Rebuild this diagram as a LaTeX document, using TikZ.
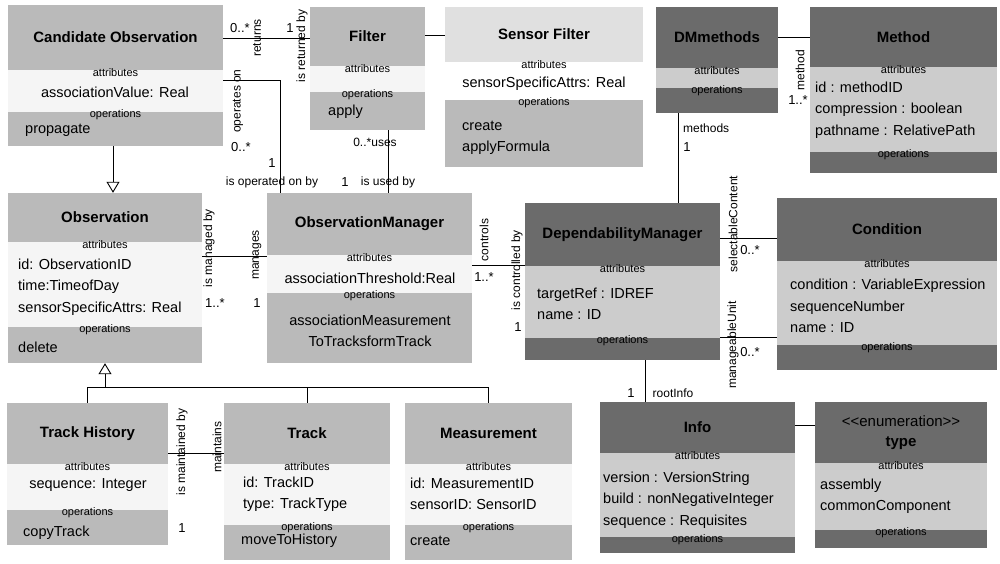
\documentclass[tikz,border=0pt]{standalone}
\usepackage{fontspec}
\setmainfont{Liberation Sans}
\usetikzlibrary{arrows.meta,fit}

\tikzset{
  lite head/.style={fill=black!27},
  lite body/.style={fill=black!4},
  lite foot/.style={fill=black!27},
  pale head/.style={fill=black!12},
  pale body/.style={fill=white},
  pale foot/.style={fill=black!27},
  dark head/.style={fill=black!58},
  dark body/.style={fill=black!20},
  dark foot/.style={fill=black!58},
  clsname/.style={font=\fontsize{15}{20}\selectfont\bfseries, align=center, inner sep=0pt},
  cmplabel/.style={font=\fontsize{11}{13}\selectfont, inner sep=0pt},
  txt/.style={font=\fontsize{14.5}{21.5}\selectfont, inner sep=0pt},
  role/.style={font=\fontsize{12}{14}\selectfont, inner sep=0pt},
  vrole/.style={role, rotate=90},
  mult/.style={font=\fontsize{13}{15}\selectfont, inner sep=0pt},
  assoc/.style={line width=0.9pt},
  inherit/.style={line width=0.9pt, -{Triangle[open, width=13pt, length=11pt, fill=white]}},
}

% box, header, attributes and operations compartments
\newcommand{\umlclass}[9]{%
  \fill[#8 head] (#2,#3) rectangle (#4,#6);
  \fill[#8 body] (#2,#6) rectangle (#4,#7);
  \fill[#8 foot] (#2,#7) rectangle (#4,#5);
  \node[fit={(#2,#3) (#4,#5)}, inner sep=0pt] (#1) {};
  \node[clsname] (#1-name) at ({(#2+#4)/2},{(#3+#6)/2}) {#9};
  \node[cmplabel] (#1-attr) at ({(#2+#4)/2},{#6+3}) {attributes};
  \node[cmplabel] (#1-ops) at ({(#2+#4)/2},{#7+3}) {operations};
}

\begin{document}
\begin{tikzpicture}[x=1pt, y=-1pt]
    \useasboundingbox (0,0) rectangle (1000,564);

    % classes
    \umlclass{candobs}{8}{5}{223}{146}{70}{112}{lite}{Candidate Observation}
    \umlclass{filter}{310}{7}{425}{130}{66}{92}{lite}{Filter}
    \umlclass{sensfilt}{445}{7}{643}{167}{62}{100}{pale}{Sensor Filter}
    \umlclass{dmmethods}{656}{7}{778}{113}{68}{88}{dark}{DMmethods}
    \umlclass{method}{810}{7}{997}{173}{67}{152}{dark}{Method}
    \umlclass{observation}{8}{193}{202}{363}{242}{327}{lite}{Observation}
    \umlclass{obsmgr}{267}{193}{472}{363}{255}{293}{lite}{ObservationManager}
    \umlclass{depmgr}{525}{203}{720}{360}{266}{338}{dark}{DependabilityManager}
    \umlclass{condition}{777}{198}{997}{370}{261}{345}{dark}{Condition}
    \umlclass{trackhist}{7}{403}{168}{545}{464}{510}{lite}{Track History}
    \umlclass{track}{224}{403}{390}{560}{464}{525}{lite}{Track}
    \umlclass{measure}{405}{403}{572}{560}{464}{525}{lite}{Measurement}
    \umlclass{info}{600}{402}{795}{553}{453}{537}{dark}{Info}
    \umlclass{enumtype}{815}{402}{987}{548}{463}{530}{dark}{\mdseries<\kern0pt<enumeration>\kern0pt>\\type}

    % attributes and operations
    \node[txt] (candobs-a) at (115,92) {associationValue: Real};
    \node[txt, anchor=west] (candobs-o) at (25,130) {propagate};
    \node[txt, anchor=west] (filter-o) at (328,112) {apply};
    \node[txt] (sensfilt-a) at (544,84) {sensorSpecificAttrs: Real};
    \node[txt, anchor=west, align=left] (sensfilt-o) at (462,138) {create\\applyFormula};
    \node[txt, anchor=west, align=left] (method-a) at (815,110) {id : methodID\\compression : boolean\\pathname : RelativePath};
    \node[txt, anchor=west, align=left] (observation-a) at (18,287) {id: ObservationID\\time:TimeofDay\\sensorSpecificAttrs: Real};
    \node[txt, anchor=west] (observation-o) at (18,347) {delete};
    \node[txt] (obsmgr-a) at (370,278) {associationThreshold:Real};
    \node[txt, align=center] (obsmgr-o) at (370,331) {associationMeasurement\\ToTracksformTrack};
    \node[txt, anchor=west, align=left] (depmgr-a) at (537,304) {targetRef : IDREF\\name : ID};
    \node[txt, anchor=west, align=left] (condition-a) at (790,306) {condition : VariableExpression\\sequenceNumber\\name : ID};
    \node[txt] (trackhist-a) at (88,485) {sequence: Integer};
    \node[txt, anchor=west] (trackhist-o) at (23,533) {copyTrack};
    \node[txt, anchor=west, align=left] (track-a) at (243,494) {id: TrackID\\type: TrackType};
    \node[txt, anchor=west] (track-o) at (241,541) {moveToHistory};
    \node[txt, anchor=west, align=left] (measure-a) at (410,494) {id: MeasurementID\\sensorID: SensorID};
    \node[txt, anchor=west] (measure-o) at (410,541) {create};
    \node[txt, anchor=west, align=left] (info-a) at (603,500) {version : VersionString\\build : nonNegativeInteger\\sequence : Requisites};
    \node[txt, anchor=west, align=left] (enumtype-a) at (820,496) {assembly\\commonComponent};

    % associations
    \draw[assoc] (candobs.east |- 0,38) -- (filter.west |- 0,38);
    \draw[assoc] (candobs.east |- 0,80) -| (obsmgr.north -| 280,0);
    \draw[assoc] (filter.east |- 0,35) -- (sensfilt.west |- 0,35);
    \draw[assoc] (filter.south -| 388,0) -- (obsmgr.north -| 388,0);
    \draw[assoc] (observation.east |- 0,256) -- (obsmgr.west |- 0,256);
    \draw[assoc] (obsmgr.east |- 0,265) -- (depmgr.west |- 0,265);
    \draw[assoc] (depmgr.north -| 678,0) -- (dmmethods.south -| 678,0);
    \draw[assoc] (dmmethods.east |- 0,37) -- (method.west |- 0,37);
    \draw[assoc] (depmgr.east |- 0,238) -- (condition.west |- 0,238);
    \draw[assoc] (depmgr.east |- 0,337) -- (condition.west |- 0,337);
    \draw[assoc] (depmgr.south -| 645,0) -- (info.north -| 645,0);
    \draw[assoc] (info.east |- 0,425) -- (enumtype.west |- 0,425);
    \draw[assoc] (trackhist.east |- 0,453) -- (track.west |- 0,453);

    % generalizations
    \draw[inherit] (candobs.south -| 113,0) -- (observation.north -| 113,0);
    \coordinate (gen) at (105,387);
    \draw[inherit] (gen) -- (observation.south -| gen);
    \draw[assoc] (trackhist.north -| 87,0) |- (gen);
    \draw[assoc] (track.north -| 307,0) |- (gen);
    \draw[assoc] (measure.north -| 488,0) |- (gen);

    % roles and multiplicities
    \node[mult] (m-ret-a) at (240,28) {0..*};
    \node[vrole] (r-ret-a) at (257,38) {returns};
    \node[mult] (m-ret-b) at (290,28) {1};
    \node[vrole] (r-ret-b) at (302,46) {is returned by};
    \node[vrole] (r-op-a) at (238,101) {operates on};
    \node[mult] (m-op-a) at (241,147) {0..*};
    \node[mult] (m-op-b) at (272,163) {1};
    \node[role] (r-op-b) at (272,182) {is operated on by};
    \node[role] (r-use-a) at (375,142) {0..*uses};
    \node[mult] (m-use-b) at (345,182) {1};
    \node[role] (r-use-b) at (388,182) {is used by};
    \node[vrole] (r-man-a) at (209,248) {is managed by};
    \node[vrole] (r-man-b) at (257,255) {manages};
    \node[mult] (m-man-a) at (215,303) {1..*};
    \node[mult] (m-man-b) at (257,303) {1};
    \node[vrole] (r-ctl-a) at (484,240) {controls};
    \node[mult] (m-ctl-a) at (484,277) {1..*};
    \node[vrole] (r-ctl-b) at (517,270) {is controlled by};
    \node[mult] (m-ctl-b) at (518,327) {1};
    \node[role, anchor=west] (r-meth-a) at (683,128) {methods};
    \node[mult] (m-meth-a) at (687,147) {1};
    \node[vrole] (r-meth-b) at (800,70) {method};
    \node[mult] (m-meth-b) at (798,100) {1..*};
    \node[vrole] (r-sel) at (733,224) {selectableContent};
    \node[mult] (m-sel) at (750,250) {0..*};
    \node[vrole] (r-mu) at (733,345) {manageableUnit};
    \node[mult] (m-mu) at (750,352) {0..*};
    \node[mult] (m-root) at (631,393) {1};
    \node[role] (r-root) at (673,393) {rootInfo};
    \node[vrole] (r-mnt-a) at (182,452) {is maintained by};
    \node[vrole] (r-mnt-b) at (217,447) {maintains};
    \node[mult] (m-mnt-a) at (182,528) {1};
\end{tikzpicture}
\end{document}
